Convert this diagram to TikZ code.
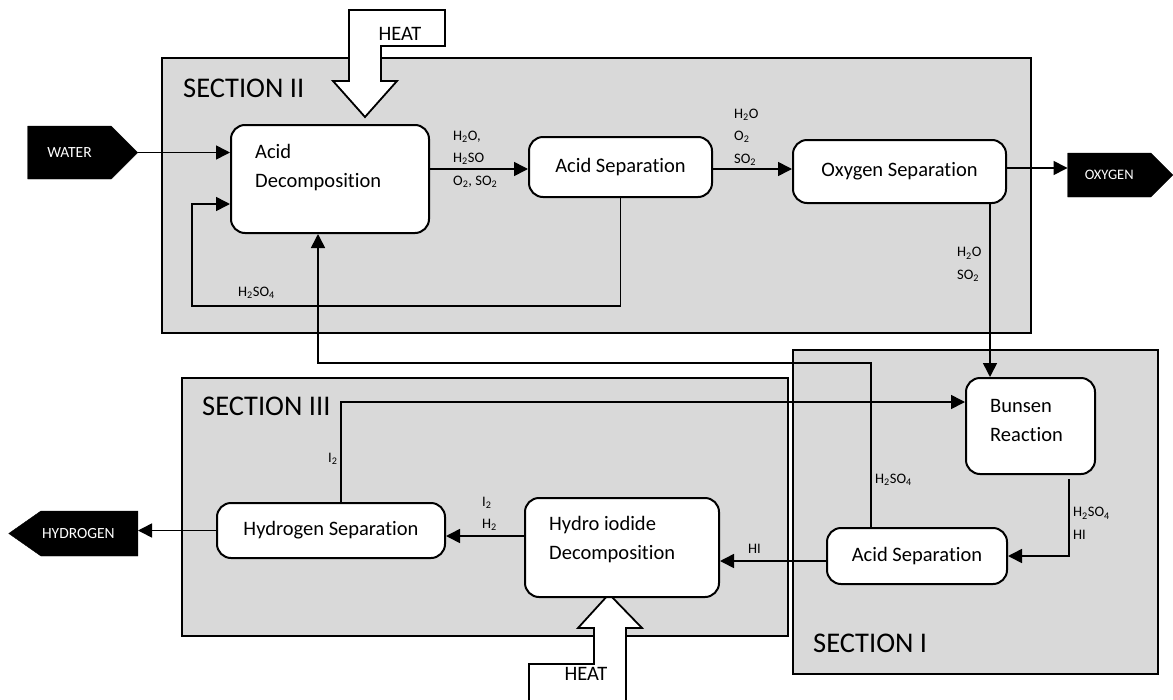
\documentclass[tikz,border=0pt]{standalone}
\usepackage{fontspec}
\setmainfont{Carlito}[Ligatures=CommonOff]
\usetikzlibrary{arrows.meta,shapes.symbols}
\definecolor{secgray}{RGB}{217,217,217}

\begin{document}
\begin{tikzpicture}[x=1pt,y=-1pt,
  section/.style={draw,fill=secgray,line width=1.8pt},
  seclabel/.style={anchor=west,inner sep=0pt,font=\fontsize{28.5}{34}\selectfont},
  proc/.style={draw,fill=white,rounded corners=14pt,line width=2pt,
               inner sep=0pt,font=\fontsize{20.5}{24}\selectfont},
  proctext/.style={anchor=west,align=left,inner sep=0pt,
                   font=\fontsize{20.5}{29}\selectfont},
  chem/.style={anchor=west,align=left,inner sep=0pt,
               font=\fontsize{14.5}{22.5}\selectfont},
  tag/.style={signal,draw=black,fill=black,text=white,inner sep=0pt,
              anchor=east,font=\fontsize{15.5}{18}\selectfont},
  heat/.style={draw,fill=white,line width=1.8pt,line join=miter},
  flow/.style={-{Triangle[length=14pt,width=14pt]},line width=1.6pt}]
  \useasboundingbox (0,0) rectangle (1173,699);

  % sections
  \draw[section] (162,58) rectangle (1031,333);
  \draw[section] (793,350) rectangle (1158,674);
  \draw[section] (182,378) rectangle (788,636);
  \node[seclabel] (secII) at (183,88) {SECTION II};
  \node[seclabel] (secIII) at (202,406) {SECTION III};
  \node[seclabel] (secI) at (813,643) {SECTION I};

  % heat inputs
  \draw[heat] (349,10) -- (445,10) -- (445,46) -- (381,46) -- (381,81)
    -- (397,81) -- (365,117) -- (333,81) -- (349,81) -- cycle;
  \node[font=\fontsize{20.5}{24}\selectfont] (heatA) at (400,34) {HEAT};
  \draw[heat] (609,594) -- (642,628) -- (626,628) -- (626,704) -- (529,704)
    -- (529,664) -- (594,664) -- (594,628) -- (578,628) -- cycle;
  \node[font=\fontsize{20.5}{24}\selectfont] (heatB) at (586,674) {HEAT};

  % process steps
  \node[proc,minimum width=198pt,minimum height=108pt] (acdec) at (330,179) {};
  \node[proctext] (acdecT) at (255,168) {Acid\\Decomposition};
  \node[proc,minimum width=183pt,minimum height=60pt] (acsep) at (620.5,167) {Acid Separation};
  \node[proc,minimum width=213pt,minimum height=63pt] (oxsep) at (899.5,171.5) {Oxygen Separation};
  \node[proc,minimum width=129pt,minimum height=96pt] (bunsen) at (1030.5,426) {};
  \node[proctext] (bunsenT) at (990,420.5) {Bunsen\\Reaction};
  \node[proc,minimum width=180pt,minimum height=56pt] (acsepB) at (917,556) {Acid Separation};
  \node[proc,minimum width=194pt,minimum height=99pt] (hidec) at (622,547.5) {};
  \node[proctext] (hidecT) at (549,540) {Hydro iodide\\Decomposition};
  \node[proc,minimum width=228pt,minimum height=55pt] (h2sep) at (331,530.5) {Hydrogen Separation};

  % inputs and products
  \node[tag,signal to=east,signal pointer angle=90,
        minimum width=110pt,minimum height=53pt] (water) at (138,152.5) {WATER};
  \node[tag,signal to=east,signal pointer angle=90,font=\fontsize{14.5}{17}\selectfont,
        minimum width=105pt,minimum height=44pt] (oxygen) at (1173,175) {OXYGEN};
  \node[tag,signal to=west,signal pointer angle=70,
        minimum width=129pt,minimum height=45pt] (hydrogen) at (138,533.5) {HYDROGEN\hspace*{22pt}};

  % flows
  \draw[flow] (water.east) -- (water.east -| acdec.west);
  \draw[flow] (acdec.east |- 0,169) -- (acsep.west |- 0,169);
  \node[chem] (lblA) at (453,159) {H\textsubscript{2}O,\\H\textsubscript{2}SO\\O\textsubscript{2}, SO\textsubscript{2}};
  \draw[flow] (acsep.east |- 0,169) -- (oxsep.west |- 0,169);
  \node[chem] (lblB) at (734,137) {H\textsubscript{2}O\\O\textsubscript{2}\\SO\textsubscript{2}};
  \draw[flow] (oxsep.east |- 0,168) -- (oxygen.west |- 0,168);
  \draw[flow] (acsep.south) |- (192,306) |- (acdec.west |- 0,204);
  \node[chem] (lblC) at (238,293) {H\textsubscript{2}SO\textsubscript{4}};
  \draw[flow] ([xshift=-17pt]oxsep.south east) -- ([xshift=-17pt]oxsep.south east |- bunsen.north);
  \node[chem] (lblD) at (957,264.5) {H\textsubscript{2}O\\SO\textsubscript{2}};
  \draw[flow] ([xshift=-27pt,yshift=-4pt]bunsen.south east) |- (acsepB.east);
  \node[chem] (lblE) at (1073,523.5) {H\textsubscript{2}SO\textsubscript{4}\\HI};
  \draw[flow] ([xshift=-46pt]acsepB.north) -- ++(0,-164) -| ([xshift=-12pt]acdec.south);
  \node[chem] (lblF) at (875,480) {H\textsubscript{2}SO\textsubscript{4}};
  \draw[flow] (acsepB.west |- 0,561) -- (hidec.east |- 0,561);
  \node[chem] (lblG) at (748,549) {HI};
  \draw[flow] (hidec.west |- 0,536) -- (h2sep.east |- 0,536);
  \node[chem] (lblH) at (482,514) {I\textsubscript{2}\\H\textsubscript{2}};
  \draw[flow] (h2sep.west) -- (hydrogen.east |- h2sep.west);
  \draw[flow] ([xshift=10pt]h2sep.north) |- (bunsen.west |- 0,402);
  \node[chem] (lblI) at (328,459) {I\textsubscript{2}};
\end{tikzpicture}
\end{document}
